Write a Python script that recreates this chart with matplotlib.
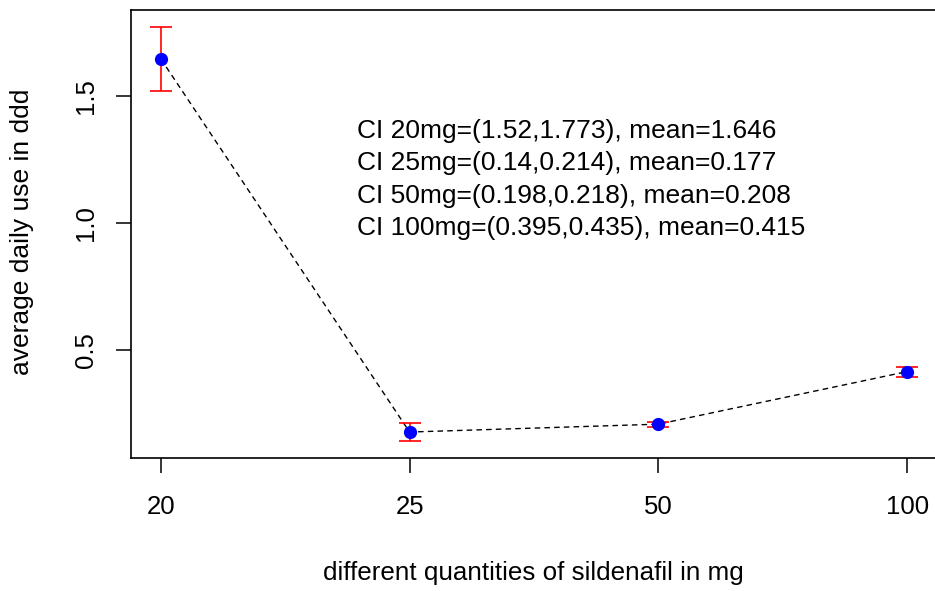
import matplotlib
matplotlib.use("Agg")
import matplotlib.pyplot as plt
import numpy as np

plt.rcParams['font.family'] = ['Liberation Sans', 'DejaVu Sans']

doses = ["20", "25", "50", "100"]
means = [1.646, 0.177, 0.208, 0.415]
ci_low = [1.52, 0.14, 0.198, 0.395]
ci_high = [1.773, 0.214, 0.218, 0.435]

x = np.arange(1, len(doses) + 1)
means = np.array(means)
yerr = [means - np.array(ci_low), np.array(ci_high) - means]

fig = plt.figure(figsize=(9.35, 5.91), dpi=100)
ax = fig.add_axes([0.1401, 0.225, 0.862, 0.758])

# dashed connecting line, then CI bars, then the means
ax.plot(x, means, color='black', linestyle=(0, (4, 3)), linewidth=1.0, zorder=1)
ax.errorbar(x, means, yerr=yerr, fmt='none', ecolor='red', elinewidth=1.2,
            capsize=8, capthick=1.2, zorder=2)
ax.plot(x, means, 'o', color='blue', markersize=8.5, zorder=3)

ax.set_xlim(0.88, 4.12)
ax.set_ylim(0.0747, 1.8383)
ax.set_xticks(x)
ax.set_xticklabels(doses)
ax.set_yticks([0.5, 1.0, 1.5])
ax.set_yticklabels(["0.5", "1.0", "1.5"], rotation=90, va='center')

ax.tick_params(axis='x', length=11, width=1.1, labelsize=18.5, pad=15.5)
ax.tick_params(axis='y', length=11, width=1.1, labelsize=18.5, pad=12.5)
for s in ax.spines.values():
    s.set_linewidth(1.2)

lines = []
for d, lo, hi, m in zip(doses, ci_low, ci_high, means):
    lines.append(f"CI {d}mg=({lo:g},{hi:g}), mean={m:g}")
for i, line in enumerate(lines):
    ax.annotate(line, xy=(1.789, 1.362), xytext=(0, -23.3 * i),
                textcoords='offset points', ha='left', va='center', fontsize=19)

fig.text(533 / 935, 1 - 573 / 591, "different quantities of sildenafil in mg",
         ha='center', va='center', fontsize=18.7)
fig.text(22 / 935, 1 - 232 / 591, "average daily use in ddd",
         ha='center', va='center', rotation=90, fontsize=19)

fig.savefig("out.png", dpi=100)
